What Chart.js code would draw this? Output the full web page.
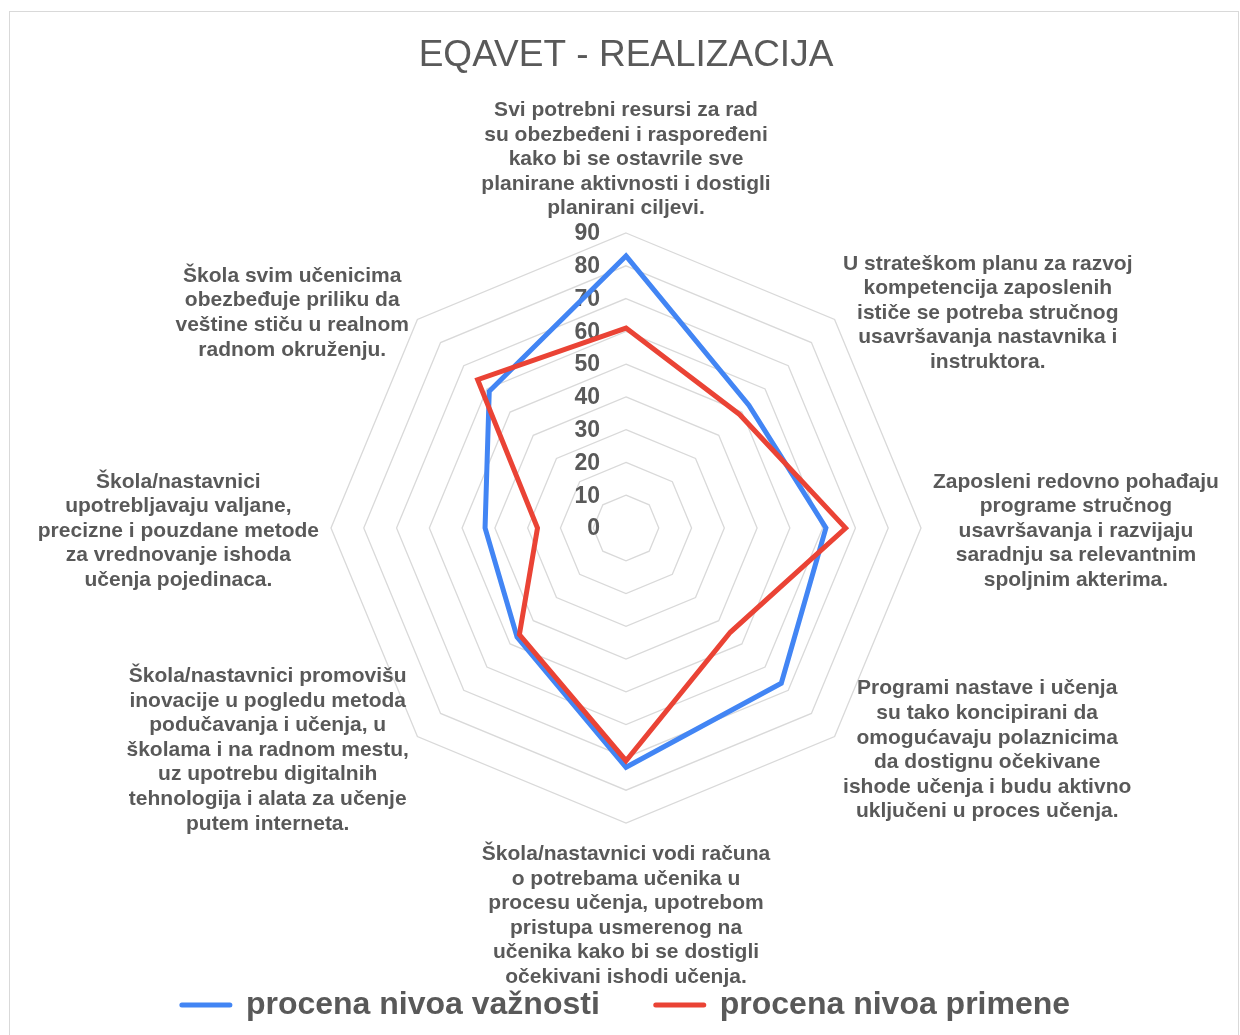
<!DOCTYPE html>
<html>
<head>
<meta charset="utf-8">
<script src="https://cdn.jsdelivr.net/npm/chart.js@4.4.0/dist/chart.umd.min.js"></script>
<style>
  html, body { margin: 0; padding: 0; background: #ffffff; }
  #wrap { position: relative; width: 1240px; height: 1035px; overflow: hidden; }
  #c { position: absolute; left: 0; top: 0; }
  #frame { position: absolute; left: 9px; top: 11px; width: 1228px; height: 1040px; border: 1px solid #d9d9d9; pointer-events: none; }
</style>
</head>
<body>
<div id="wrap">
  <canvas id="c" width="1240" height="1035"></canvas>
  <div id="frame"></div>
</div>
<script>
const chartTitle = 'EQAVET - REALIZACIJA';

const categories = [
  ['Svi potrebni resursi za rad', 'su obezbeđeni i raspoređeni', 'kako bi se ostavrile sve', 'planirane aktivnosti i dostigli', 'planirani ciljevi.'],
  ['U strateškom planu za razvoj', 'kompetencija zaposlenih', 'ističe se potreba stručnog', 'usavršavanja nastavnika i', 'instruktora.'],
  ['Zaposleni redovno pohađaju', 'programe stručnog', 'usavršavanja i razvijaju', 'saradnju sa relevantnim', 'spoljnim akterima.'],
  ['Programi nastave i učenja', 'su tako koncipirani da', 'omogućavaju polaznicima', 'da dostignu očekivane', 'ishode učenja i budu aktivno', 'uključeni u proces učenja.'],
  ['Škola/nastavnici vodi računa', 'o potrebama učenika u', 'procesu učenja, upotrebom', 'pristupa usmerenog na', 'učenika kako bi se dostigli', 'očekivani ishodi učenja.'],
  ['Škola/nastavnici promovišu', 'inovacije u pogledu metoda', 'podučavanja i učenja, u', 'školama i na radnom mestu,', 'uz upotrebu digitalnih', 'tehnologija i alata za učenje', 'putem interneta.'],
  ['Škola/nastavnici', 'upotrebljavaju valjane,', 'precizne i pouzdane metode', 'za vrednovanje ishoda', 'učenja pojedinaca.'],
  ['Škola svim učenicima', 'obezbeđuje priliku da', 'veštine stiču u realnom', 'radnom okruženju.']
];

const seriesNames = ['procena nivoa važnosti', 'procena nivoa primene'];
const importanceValues = [83, 53, 61, 67, 73, 47, 43, 59];
const applicationValues = [61, 49, 67, 45, 71, 46, 27, 64];

const tickLabels = ['0', '10', '20', '30', '40', '50', '60', '70', '80', '90'];
const axisMin = 0;
const axisMax = 90;
const axisStep = 10;

const TEXT_COLOR = '#595959';
const FONT_FAMILY = '"Liberation Sans", Arial, Helvetica, sans-serif';

// Multi-line category labels, centered blocks anchored to the scale's outer vertices
const categoryLabelPlugin = {
  id: 'categoryLabels',
  afterDraw(chart) {
    const scale = chart.scales.r;
    const ctx = chart.ctx;
    const lh = 24.6;
    ctx.save();
    ctx.font = 'bold 21px ' + FONT_FAMILY;
    ctx.fillStyle = TEXT_COLOR;
    ctx.textAlign = 'center';
    ctx.textBaseline = 'middle';
    chart.data.labels.forEach((lines, i) => {
      const p = scale.getPointPosition(i, scale.drawingArea + 12);
      const cos = Math.cos(p.angle), sin = Math.sin(p.angle);
      const w = Math.max(...lines.map(l => ctx.measureText(l).width));
      const h = lines.length * lh;
      let cx, top;
      if (Math.abs(cos) < 0.01) {
        cx = p.x;
        top = sin < 0 ? p.y - h : p.y + 7;
      } else {
        cx = cos > 0 ? p.x + w / 2 : p.x - w / 2;
        let dy = 3;
        if (sin < -0.01) dy = 2;
        if (sin > 0.01) dy = 5;
        top = p.y - h / 2 + dy;
      }
      lines.forEach((l, k) => ctx.fillText(l, cx, top + lh * (k + 0.5)));
    });
    ctx.restore();
  }
};

// Value tick labels placed left of the vertical axis, at the scale's tick radii
const tickLabelPlugin = {
  id: 'tickLabels',
  beforeDatasetsDraw(chart) {
    const scale = chart.scales.r;
    const ctx = chart.ctx;
    ctx.save();
    ctx.font = 'bold 23px ' + FONT_FAMILY;
    ctx.fillStyle = TEXT_COLOR;
    ctx.textAlign = 'right';
    ctx.textBaseline = 'middle';
    scale.ticks.forEach((t, idx) => {
      const d = scale.getDistanceFromCenterForValue(t.value);
      const txt = tickLabels[idx] !== undefined ? tickLabels[idx] : String(t.value);
      ctx.fillText(txt, scale.xCenter - 26, scale.yCenter - d + 1);
    });
    ctx.restore();
  }
};

const ctx = document.getElementById('c').getContext('2d');
new Chart(ctx, {
  type: 'radar',
  data: {
    labels: categories,
    datasets: [
      {
        label: seriesNames[0],
        data: importanceValues,
        borderColor: '#4285f4',
        backgroundColor: '#4285f4',
        borderWidth: 5,
        fill: false,
        pointRadius: 0,
        pointHoverRadius: 0,
        tension: 0,
        order: 1
      },
      {
        label: seriesNames[1],
        data: applicationValues,
        borderColor: '#ea4335',
        backgroundColor: '#ea4335',
        borderWidth: 5,
        fill: false,
        pointRadius: 0,
        pointHoverRadius: 0,
        tension: 0,
        order: 0
      }
    ]
  },
  options: {
    responsive: false,
    animation: false,
    devicePixelRatio: 1,
    layout: { padding: { left: 12, right: 0, top: 0, bottom: 4 } },
    scales: {
      r: {
        min: axisMin,
        max: axisMax,
        ticks: { stepSize: axisStep, display: false, showLabelBackdrop: false },
        grid: { color: '#d9d9d9', lineWidth: 1.3, circular: false },
        angleLines: { display: false },
        pointLabels: { display: false }
      }
    },
    plugins: {
      title: {
        display: true,
        text: chartTitle,
        color: TEXT_COLOR,
        font: { family: FONT_FAMILY, size: 37, weight: 'normal', lineHeight: 1.2 },
        padding: { top: 34, bottom: 154.6 }
      },
      subtitle: {
        display: true,
        position: 'bottom',
        weight: 500,
        text: '',
        font: { size: 10, lineHeight: 1.2 },
        padding: { top: 0, bottom: 98 }
      },
      legend: {
        display: true,
        position: 'bottom',
        labels: {
          color: TEXT_COLOR,
          font: { family: FONT_FAMILY, size: 32, weight: 'bold' },
          usePointStyle: true,
          pointStyle: 'line',
          pointStyleWidth: 48,
          padding: 56,
          sort: (a, b) => a.datasetIndex - b.datasetIndex,
          generateLabels(chart) {
            const items = Chart.defaults.plugins.legend.labels.generateLabels(chart);
            items.forEach(it => {
              it.lineWidth = 5;
              it.lineCap = 'round';
              it.pointStyle = 'line';
              it.fontColor = TEXT_COLOR;
            });
            return items;
          }
        }
      },
      tooltip: { enabled: false }
    }
  },
  plugins: [tickLabelPlugin, categoryLabelPlugin]
});
</script>
</body>
</html>
